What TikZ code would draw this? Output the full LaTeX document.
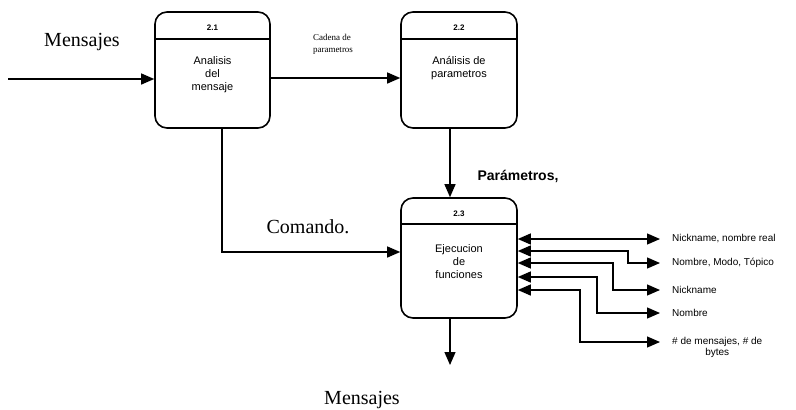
\documentclass[tikz,border=0pt]{standalone}
\usepackage{fontspec}
\setmainfont{Liberation Serif}
\setsansfont{Liberation Sans}
\usetikzlibrary{arrows.meta}

\tikzset{
  proc/.style={draw,line width=1.6pt,rounded corners=12pt,inner sep=0pt},
  flow/.style={line width=1.3pt,-{Triangle[length=13pt,width=11pt]}},
  dflow/.style={line width=1.3pt,{Triangle[length=13pt,width=11pt]}-{Triangle[length=13pt,width=11pt]},shorten >=12pt},
  bigtxt/.style={font=\fontsize{20}{22}\selectfont},
  boxtxt/.style={font=\sffamily\fontsize{11}{13}\selectfont,align=center},
  numtxt/.style={font=\sffamily\bfseries\fontsize{8}{9}\selectfont},
  datatxt/.style={font=\sffamily\fontsize{10}{11}\selectfont,inner sep=0pt},
}

\begin{document}
\begin{tikzpicture}[x=1pt,y=-1pt]
\useasboundingbox (0,0) rectangle (796,410);
% procesos
\node[proc,minimum width=115pt,minimum height=116pt] (am) at (212.5,70) {};
\node[proc,minimum width=116pt,minimum height=116pt] (ap) at (459,70) {};
\node[proc,minimum width=116pt,minimum height=120pt] (ef) at (459,258) {};
\draw[line width=1.6pt] (am.west |- 0,39) -- (am.east |- 0,39);
\draw[line width=1.6pt] (ap.west |- 0,39) -- (ap.east |- 0,39);
\draw[line width=1.6pt] (ef.west |- 0,224) -- (ef.east |- 0,224);
\node[numtxt] (am-n) at (212.5,28) {2.1};
\node[numtxt] (ap-n) at (459,28) {2.2};
\node[numtxt] (ef-n) at (459,214) {2.3};
\node[boxtxt] (am-t) at (212.5,75) {Analisis\\del\\mensaje};
\node[boxtxt] (ap-t) at (459,68) {Análisis de\\parametros};
\node[boxtxt] (ef-t) at (459,262) {Ejecucion\\de\\funciones};

% flujos
\coordinate (src) at (8,79);
\coordinate (sink) at (450,365);
\node[bigtxt] (m-in) at (82,42) {Mensajes};
\node[font=\fontsize{9}{12}\selectfont,align=left] (cad) at (333,44) {Cadena de\\parametros};
\node[font=\sffamily\bfseries\fontsize{14}{16}\selectfont] (par) at (518,176) {Parámetros,};
\node[bigtxt] (cmd) at (308,227) {Comando.};
\node[bigtxt] (m-out) at (362,400) {Mensajes};
\draw[flow] (src) -- (am.west |- src);
\draw[flow] (am.east |- 0,78) -- (ap.west |- 0,78);
\draw[flow] (ap.south -| 450,0) -- (ef.north -| 450,0);
\draw[flow] (am.south -| 222,0) |- (ef.west |- 0,252);
\draw[flow] (ef.south -| sink) -- (sink);

% datos
\node[datatxt,anchor=west] (d1) at (672,239) {Nickname, nombre real};
\node[datatxt,anchor=west] (d2) at (672,263) {Nombre, Modo, Tópico};
\node[datatxt,anchor=west] (d3) at (672,290) {Nickname};
\node[datatxt,anchor=west] (d4) at (672,313) {Nombre};
\node[datatxt,anchor=north west,align=center] (d5) at (672,337) {\# de mensajes, \# de\\bytes};
\foreach \yl/\xt/\yr/\lab in {239/640/239/d1, 251/628/263/d2, 263/613/290/d3, 277/597/313/d4, 290/580/342/d5}
  \draw[dflow] (ef.east |- 0,\yl) -| (\xt,\yr) -- (\lab.west |- 0,\yr);
\end{tikzpicture}
\end{document}
